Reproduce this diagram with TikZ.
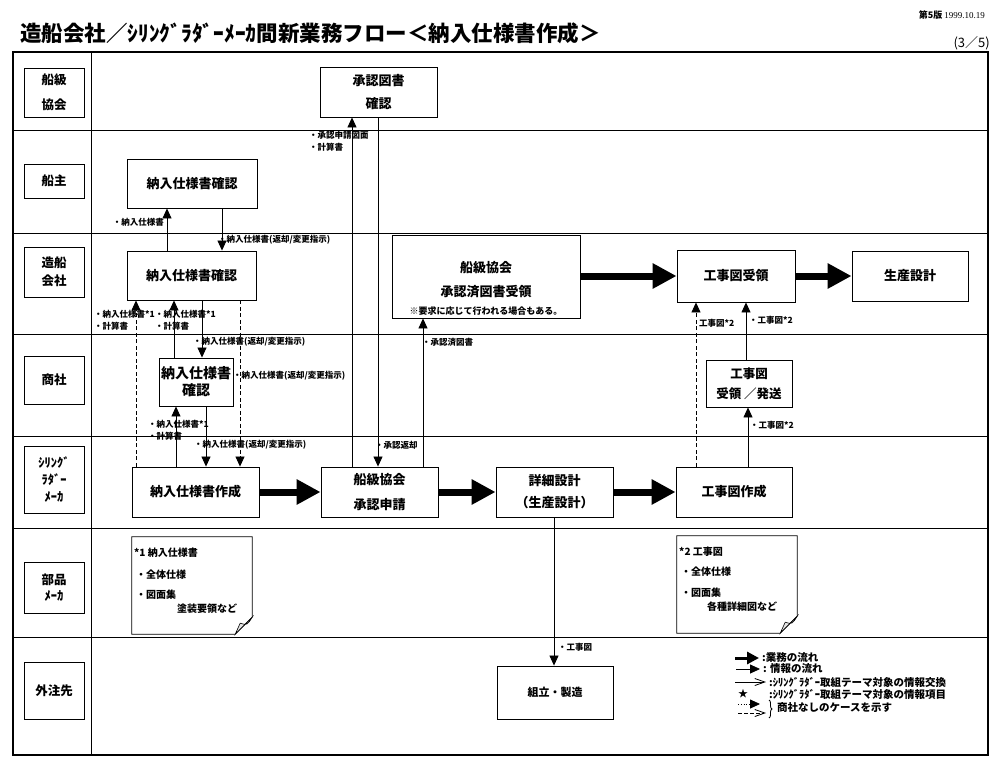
\documentclass[tikz,border=0pt]{standalone}
\usepackage{fontspec}
\setmainfont{Noto Sans CJK JP}
\newfontfamily\dateserif{Liberation Serif}
\usetikzlibrary{positioning,arrows.meta,decorations.pathreplacing}

\begin{document}
\begin{tikzpicture}[x=1pt,y=-1pt,>={Triangle[length=10pt,width=9pt]},
    every node/.style={font=\bfseries},
    lane/.style={shape=rectangle,draw,line width=0.9pt,minimum width=60pt,inner sep=0pt,align=center,font=\bfseries\fontsize{12.5}{18}\selectfont},
    task/.style={shape=rectangle,draw,line width=0.9pt,inner sep=0pt,align=center,font=\bfseries\fontsize{13}{23}\selectfont},
    tag/.style={inner sep=0pt,align=left,font=\bfseries\fontsize{8.5}{12}\selectfont},
    memo/.style={inner sep=0pt,anchor=west,font=\bfseries\fontsize{10}{12}\selectfont},
    key/.style={inner sep=0pt,anchor=west,font=\bfseries\fontsize{10.5}{12}\selectfont},
    info/.style={->,line width=0.8pt},
    infodash/.style={info,dash pattern=on 4pt off 2.5pt},
    flow/.style={line width=7pt,-{Triangle[length=24pt,width=24pt]}},
  ]
	\useasboundingbox (0,0) rectangle (1000,770);

	% heading
	\node (title) [anchor=west,inner sep=0pt,font=\bfseries\fontsize{21.5}{24}\selectfont] at (20,33) {造船会社／ｼﾘﾝｸﾞﾗﾀﾞｰﾒｰｶ間新業務フロー＜納入仕様書作成＞};
	\node (edition) [anchor=east,inner sep=0pt,font=\fontsize{9}{10}\selectfont] at (985,15) {{\bfseries 第5版} {\dateserif 1999.10.19}};
	\node (page) [anchor=east,inner sep=0pt,font=\fontsize{13}{14}\selectfont] at (990,43) {(3／5)};

	% swim lanes
	\draw[line width=1.2pt] (13,52) rectangle (988,755);
	\draw[line width=0.9pt] (91,52) -- (91,755);
	\foreach \y in {130,233,334,436,528,637}
		\draw[line width=0.9pt] (13,\y) -- (988,\y);

	\node (l_class) [lane,minimum height=49pt] at (54,92.5) {船級\\[7pt]協会};
	\node (l_owner) [lane,minimum height=34pt] at (54,181) {船主};
	\node (l_yard) [lane,minimum height=50pt] at (54,272) {造船\\会社};
	\node (l_trader) [lane,minimum height=48pt] at (54,380) {商社};
	\node (l_maker) [lane,minimum height=67pt,font=\bfseries\fontsize{12.5}{17}\selectfont] at (54,479.5) {ｼﾘﾝｸﾞ\\ﾗﾀﾞｰ\\ﾒｰｶ};
	\node (l_parts) [lane,minimum height=51pt,font=\bfseries\fontsize{12.5}{16}\selectfont] at (54,587.5) {部品\\ﾒｰｶ};
	\node (l_out) [lane,minimum height=57pt] at (54,690.5) {外注先};

	% tasks
	\node (cls_chk) [task,minimum width=117pt,minimum height=50pt] at (378.5,92) {承認図書\\確認};
	\node (owner_chk) [task,minimum width=130pt,minimum height=49pt] at (192,183.5) {納入仕様書確認};
	\node (yard_chk) [task,minimum width=129pt,minimum height=49pt] at (191.5,275.5) {納入仕様書確認};
	\node (trader_chk) [task,minimum width=74pt,minimum height=48pt,font=\bfseries\fontsize{14}{17}\selectfont] at (196,382) {納入仕様書\\確認};
	\node (spec_make) [task,minimum width=127pt,minimum height=50pt] at (195.5,492) {納入仕様書作成};
	\node (apply) [task,minimum width=117pt,minimum height=50pt,font=\bfseries\fontsize{13}{25}\selectfont] at (379.5,492) {船級協会\\承認申請};
	\node (detail) [task,minimum width=117pt,minimum height=50pt,font=\bfseries\fontsize{13}{22}\selectfont] at (554.5,492) {詳細設計\\（生産設計）};
	\node (dwg_make) [task,minimum width=116pt,minimum height=50pt] at (734,492) {工事図作成};
	\node (cls_recv) [task,minimum width=188pt,minimum height=83pt] at (486,276.5) {};
	\node (cls_recv_txt) [inner sep=0pt,align=center,font=\bfseries\fontsize{13}{24}\selectfont] at (486,280) {船級協会\\承認済図書受領};
	\node (cls_recv_note) [above=3pt of cls_recv.south,inner sep=0pt,font=\bfseries\fontsize{9}{11}\selectfont] {※要求に応じて行われる場合もある。};
	\node (dwg_recv) [task,minimum width=118pt,minimum height=52pt] at (736,276) {工事図受領};
	\node (prod) [task,minimum width=116pt,minimum height=50pt] at (910,276) {生産設計};
	\node (dwg_relay) [task,minimum width=86pt,minimum height=47pt,font=\bfseries\fontsize{12.5}{20}\selectfont] at (749,383.5) {工事図\\受領 ／発送};
	\node (assy) [task,minimum width=116pt,minimum height=53pt,font=\bfseries\fontsize{11}{13}\selectfont] at (555,692.5) {組立・製造};

	% business flow
	\draw[flow] (spec_make) -- (apply);
	\draw[flow] (apply) -- (detail);
	\draw[flow] (detail) -- (dwg_make);
	\draw[flow] (cls_recv.east |- dwg_recv.west) -- (dwg_recv.west);
	\draw[flow] (dwg_recv) -- (prod);

	% information flow
	\draw[info] (yard_chk.north -| 167,0) -- (owner_chk.south -| 167,0);
	\draw[info] (owner_chk.south -| 222,0) -- (yard_chk.north -| 222,0);
	\draw[infodash] (spec_make.north -| 136,0) -- (yard_chk.south -| 136,0);
	\draw[info] (trader_chk.north -| 174,0) -- (yard_chk.south -| 174,0);
	\draw[info] (yard_chk.south -| 202,0) -- (trader_chk.north -| 202,0);
	\draw[infodash] (yard_chk.south -| 240,0) -- (spec_make.north -| 240,0);
	\draw[info] (spec_make.north -| 176,0) -- (trader_chk.south -| 176,0);
	\draw[info] (trader_chk.south -| 206,0) -- (spec_make.north -| 206,0);
	\draw[info] (apply.north -| 352,0) -- (cls_chk.south -| 352,0);
	\draw[info] (cls_chk.south -| 378,0) -- (apply.north -| 378,0);
	\draw[info] (apply.north -| 423,0) -- (cls_recv.south -| 423,0);
	\draw[infodash] (dwg_make.north -| 696,0) -- (dwg_recv.south -| 696,0);
	\draw[info] (dwg_make.north -| 748,0) -- (dwg_relay.south -| 748,0);
	\draw[info] (dwg_relay.north -| 746,0) -- (dwg_recv.south -| 746,0);
	\draw[info] (detail.south -| 554,0) -- (assy.north -| 554,0);

	\node (t_owner_up) [tag,anchor=east] at (164,222) {・納入仕様書};
	\node (t_owner_dn) [tag,anchor=west] at (218,240) {・納入仕様書(返却/変更指示)};
	\node (t_dash_up) [tag,anchor=west] at (94,320) {・納入仕様書*1\\・計算書};
	\node (t_tr_up) [tag,anchor=west] at (155,320) {・納入仕様書*1\\・計算書};
	\node (t_tr_dn) [tag,anchor=west] at (193,342) {・納入仕様書(返却/変更指示)};
	\node (t_dash_dn) [tag,anchor=west] at (233,376) {・納入仕様書(返却/変更指示)};
	\node (t_mk_up) [tag,anchor=west] at (148,430) {・納入仕様書*1\\・計算書};
	\node (t_mk_dn) [tag,anchor=west] at (194,445) {・納入仕様書(返却/変更指示)};
	\node (t_apply) [tag,anchor=west] at (309,141) {・承認申請図面\\・計算書};
	\node (t_return) [tag,anchor=west] at (375,445) {・承認返却};
	\node (t_approved) [tag,anchor=west] at (422,342) {・承認済図書};
	\node (t_dwg_dash) [tag,anchor=west] at (699,323) {工事図*2};
	\node (t_dwg_up1) [tag,anchor=west] at (749,320) {・工事図*2};
	\node (t_dwg_up2) [tag,anchor=west] at (750,425) {・工事図*2};
	\node (t_dwg_out) [tag,anchor=west] at (558,647) {・工事図};

	% notes
	\node (note1) [minimum width=120pt,minimum height=97pt,inner sep=0pt] at (192,585.5) {};
	\node (note2) [minimum width=120pt,minimum height=97pt,inner sep=0pt] at (737,584.5) {};
	\foreach \n in {note1,note2} {
		\draw[line width=0.8pt] (\n.north west) -- (\n.north east) -- ([yshift=17pt]\n.south east) -- ([xshift=-17pt]\n.south east) -- (\n.south west) -- cycle;
		\filldraw[fill=gray!20,line width=0.6pt] ([xshift=-17pt]\n.south east) -- ([yshift=17pt]\n.south east) .. controls ([xshift=-5pt,yshift=9pt]\n.south east) .. ([xshift=-12pt,yshift=11pt]\n.south east) -- cycle;
	}
	\node (note1_a) [memo] at (134,553) {*1 納入仕様書};
	\node (note1_b) [memo] at (136,575) {・全体仕様};
	\node (note1_c) [memo] at (136,595) {・図面集};
	\node (note1_d) [memo] at (177,609) {塗装要領など};
	\node (note2_a) [memo] at (679,552) {*2 工事図};
	\node (note2_b) [memo] at (681,572) {・全体仕様};
	\node (note2_c) [memo] at (681,593) {・図面集};
	\node (note2_d) [memo] at (707,607) {各種詳細図など};

	% legend
	\draw[line width=3pt,-{Triangle[length=12pt,width=12pt]}] (735,658) -- (759,658);
	\draw[info] (736,669) -- (760,669);
	\draw[line width=0.8pt,-{Straight Barb[length=10pt,width=7pt]}] (735,682) -- (766,682);
	\node (k_star) [inner sep=0pt,font=\fontsize{10}{10}\selectfont] at (743,694) {★};
	\draw[line width=0.8pt,dotted,->] (738,704) -- (760,704);
	\draw[line width=0.8pt,dash pattern=on 4pt off 2pt,-{Straight Barb[length=10pt,width=7pt]}] (738,713) -- (766,713);
	\draw[decorate,decoration={brace,amplitude=3pt},line width=0.8pt] (769,700) -- (769,718);
	\node (k_flow) [key] at (762,658) {:業務の流れ};
	\node (k_info) [key] at (763,669) {: 情報の流れ};
	\node (k_swap) [key] at (769,682) {:ｼﾘﾝｸﾞﾗﾀﾞｰ取組テーマ対象の情報交換};
	\node (k_item) [key] at (769,694) {:ｼﾘﾝｸﾞﾗﾀﾞｰ取組テーマ対象の情報項目};
	\node (k_none) [key] at (777,708) {商社なしのケースを示す};
\end{tikzpicture}
\end{document}
